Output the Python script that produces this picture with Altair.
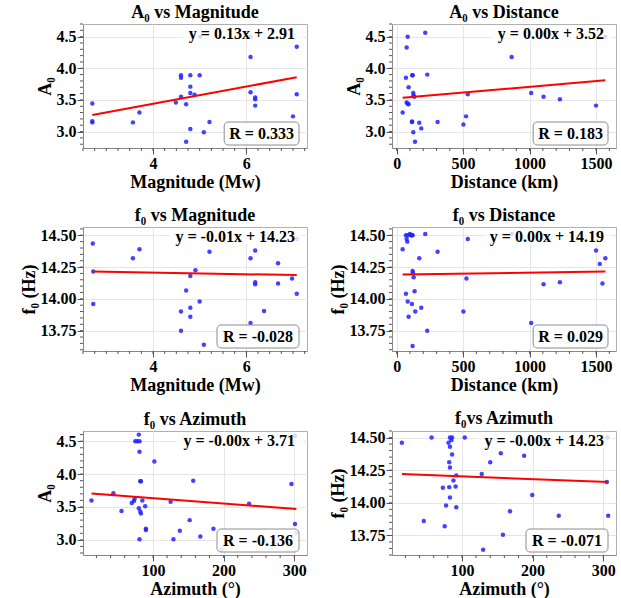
import altair as alt
import numpy as np
import pandas as pd

FONT = "Liberation Serif"
W, H = 224, 124

# ---------------- data ----------------
mag_a0 = [2.7, 2.7, 2.7, 3.57, 3.71, 4.49, 4.60, 4.60, 4.60, 4.71, 4.71, 4.80, 4.80, 4.80,
          4.89, 4.80, 5.00, 5.09, 5.21, 5.01, 6.09, 6.09, 6.19, 6.19, 6.19, 6.09, 7.0, 7.08, 7.08]
a0_mag = [3.445, 3.165, 3.145, 3.145, 3.30, 3.46, 3.89, 3.85, 3.55, 3.43, 2.84, 3.89, 3.71, 3.61,
          3.58, 3.04, 3.89, 2.99, 3.15, 4.50, 4.18, 3.62, 3.54, 3.51, 3.41, 4.50, 3.24, 4.34, 3.59]

dist_a0 = [215, 83, 75, 120, 118, 230, 70, 90, 125, 127, 133, 75, 83, 90, 45, 115, 117, 170,
           185, 125, 138, 308, 502, 522, 535, 865, 1012, 1105, 1228, 1500, 1570]
a0_dist = [4.56, 4.50, 4.33, 3.89, 3.89, 3.90, 3.85, 3.70, 3.61, 3.57, 3.55, 3.46, 3.44, 3.43,
           3.30, 3.15, 3.16, 3.14, 3.05, 2.99, 2.84, 3.15, 3.11, 3.24, 3.59, 4.18, 3.61, 3.55,
           3.51, 3.41, 4.50]

mag_f0 = [2.71, 2.72, 2.72, 3.57, 3.71, 4.60, 4.60, 4.71, 4.80, 4.80, 4.80, 4.91, 5.00, 5.09,
          5.21, 4.90, 6.09, 6.09, 6.19, 6.19, 6.19, 6.38, 6.68, 6.68, 6.98, 7.08, 7.08]
f0_mag = [14.435, 14.215, 13.96, 14.32, 14.39, 13.90, 13.75, 14.065, 14.18, 13.93, 13.86, 14.225,
          13.98, 13.64, 14.37, 14.50, 14.32, 13.81, 14.38, 14.13, 14.115, 13.905, 14.28, 14.12,
          14.16, 14.04, 14.47]

dist_f0 = [45, 70, 85, 100, 108, 115, 120, 75, 80, 215, 308, 170, 535, 120, 122, 128, 525, 135,
           70, 83, 115, 185, 140, 90, 502, 230, 120, 865, 1012, 1105, 1228, 1500, 1528, 1548, 1570]
f0_dist = [14.39, 14.50, 14.50, 14.51, 14.50, 14.50, 14.50, 14.47, 14.45, 14.51, 14.37, 14.32,
           14.47, 14.22, 14.205, 14.17, 14.16, 14.06, 14.04, 13.98, 13.96, 13.93, 13.90, 13.86,
           13.90, 13.75, 13.63, 14.51, 13.81, 14.115, 14.13, 14.38, 14.275, 14.12, 14.32]

az_a0 = [13, 44, 55.5, 70, 73, 74, 80, 75, 78, 81, 81, 82, 83, 85, 89, 80, 82, 83, 90, 90, 81,
         102, 125, 129, 138, 152, 157, 167, 185.6, 197, 236, 296, 301, 301, 303]
a0_az = [3.60, 3.71, 3.44, 3.56, 3.59, 3.62, 4.60, 4.50, 4.50, 4.50, 4.34, 3.89, 3.89, 3.60,
         3.51, 3.48, 3.43, 3.40, 3.17, 3.15, 3.01, 4.19, 3.58, 3.01, 3.14, 3.30, 3.90, 3.05,
         3.17, 2.85, 3.55, 3.85, 3.24, 4.58, 3.11]

az_f0 = [15, 57, 83, 86, 85, 104, 81, 83, 86, 155, 140, 82, 83, 92, 128, 88, 73, 82, 91, 83,
         77.5, 92, 46, 75.6, 130, 158, 188, 199.5, 168, 237, 305, 307, 306]
f0_az = [14.46, 14.50, 14.50, 14.50, 14.48, 14.50, 14.46, 14.43, 14.37, 14.38, 14.31, 14.31,
         14.27, 14.21, 14.22, 14.17, 14.115, 14.12, 14.125, 14.04, 13.98, 13.965, 13.86, 13.82,
         13.64, 13.755, 14.36, 14.06, 13.935, 13.90, 14.16, 13.90, 14.50]

slopes = [0.1364, 0.00018, -0.0064, 0.0000155, -0.00081, -0.00021]
intercepts = [2.893, 3.527, 14.232, 14.191, 3.714, 14.223]
equations = ["y = 0.13x + 2.91", "y = 0.00x + 3.52", "y = -0.01x + 14.23",
             "y = 0.00x + 14.19", "y = -0.00x + 3.71", "y = -0.00x + 14.23"]
r_labels = ["R = 0.333", "R = 0.183", "R = -0.028", "R = 0.029", "R = -0.136", "R = -0.071"]
titles = ["A\u2080 vs Magnitude", "A\u2080 vs Distance", "f\u2080 vs Magnitude",
          "f\u2080 vs Distance", "f\u2080 vs Azimuth", "f\u2080vs Azimuth"]
x_titles = ["Magnitude (Mw)", "Distance (km)", "Magnitude (Mw)", "Distance (km)",
            "Azimuth (\u00b0)", "Azimuth (\u00b0)"]
y_titles = ["A\u2080", "A\u2080", "f\u2080 (Hz)", "f\u2080 (Hz)", "A\u2080", "f\u2080 (Hz)"]


def tick_values(lo, hi, step):
    start = np.ceil(lo / step - 1e-9) * step
    vals = np.arange(start, hi + 1e-9, step)
    return [float(round(v, 4)) for v in vals]


def make_axis(title, dom, major, fmt):
    return alt.Axis(
        title=title,
        values=tick_values(dom[0], dom[1], major),
        format=fmt,
        tickSize=6,
        labelOverlap=False,
        labelFlush=False,
    )


def panel(i, xs, ys, xdom, ydom, xtick, ytick):
    df = pd.DataFrame({"x": xs, "y": ys})
    xsc = alt.Scale(domain=xdom, nice=False, zero=False)
    ysc = alt.Scale(domain=ydom, nice=False, zero=False)
    xax = make_axis(x_titles[i], xdom, xtick[1], xtick[2])
    yax = make_axis(y_titles[i], ydom, ytick[1], ytick[2])
    pts = alt.Chart(df).mark_circle(size=20, color="#2222ff", opacity=0.85).encode(
        x=alt.X("x:Q", scale=xsc, axis=xax),
        y=alt.Y("y:Q", scale=ysc, axis=yax),
    )
    x0, x1 = min(xs), max(xs)
    ldf = pd.DataFrame({"x": [x0, x1],
                        "y": [intercepts[i] + slopes[i] * x0, intercepts[i] + slopes[i] * x1]})
    line = alt.Chart(ldf).mark_line(color="#ff0000", strokeWidth=2).encode(
        x=alt.X("x:Q", scale=xsc, axis=xax),
        y=alt.Y("y:Q", scale=ysc, axis=yax),
    )
    # minor ticks
    mx = pd.DataFrame({"t": tick_values(xdom[0], xdom[1], xtick[0])})
    my = pd.DataFrame({"t": tick_values(ydom[0], ydom[1], ytick[0])})
    mxr = alt.Chart(mx).mark_rule(color="#555555", strokeWidth=1).encode(
        x=alt.X("t:Q", scale=xsc, axis=xax), y=alt.value(H), y2=alt.value(H + 3))
    myr = alt.Chart(my).mark_rule(color="#555555", strokeWidth=1).encode(
        y=alt.Y("t:Q", scale=ysc, axis=yax), x=alt.value(0), x2=alt.value(-3))
    one = pd.DataFrame({"k": [0]})
    ew = len(equations[i]) * 6.9
    ebg = alt.Chart(one).mark_rect(color="white", opacity=0.8).encode(
        x=alt.value(W - 14 - ew), x2=alt.value(W - 4), y=alt.value(1), y2=alt.value(17))
    etx = alt.Chart(one).mark_text(
        text=equations[i], align="right", baseline="middle", font=FONT,
        fontWeight="bold", fontSize=16, color="black").encode(
        x=alt.value(W - 12), y=alt.value(9.5))
    rw = len(r_labels[i]) * 7.2 + 10
    rbox = alt.Chart(one).mark_rect(
        fill="white", fillOpacity=0.85, stroke="#8c8c8c", strokeWidth=1,
        cornerRadius=4).encode(
        x=alt.value(W - 8 - rw), x2=alt.value(W - 8), y=alt.value(H - 26), y2=alt.value(H - 3))
    rtx = alt.Chart(one).mark_text(
        text=r_labels[i], align="center", baseline="middle", font=FONT,
        fontWeight="bold", fontSize=16, color="black").encode(
        x=alt.value(W - 8 - rw / 2), y=alt.value(H - 14))
    return alt.layer(mxr, myr, pts, line, ebg, etx, rbox, rtx).properties(
        width=W, height=H, title=alt.Title(titles[i], frame="group"))


mag_dom = [2.5, 7.3]
dist_dom = [-35, 1650]
az_dom = [1, 318]
p1 = panel(0, mag_a0, a0_mag, mag_dom, [2.74, 4.70], (0.25, 2, "d"), (0.1, 0.5, ".1f"))
p2 = panel(1, dist_a0, a0_dist, dist_dom, [2.74, 4.70], (100, 500, "d"), (0.1, 0.5, ".1f"))
p3 = panel(2, mag_f0, f0_mag, mag_dom, [13.59, 14.565], (0.25, 2, "d"), (0.05, 0.25, ".2f"))
p4 = panel(3, dist_f0, f0_dist, dist_dom, [13.59, 14.565], (100, 500, "d"), (0.05, 0.25, ".2f"))
p5 = panel(4, az_a0, a0_az, az_dom, [2.77, 4.655], (20, 100, "d"), (0.1, 0.5, ".1f"))
p6 = panel(5, az_f0, f0_az, az_dom, [13.60, 14.55], (20, 100, "d"), (0.05, 0.25, ".2f"))

chart = alt.concat(p1, p2, p3, p4, p5, p6, columns=2, spacing={"row": 14, "column": 20}).properties(
    padding={"left": 19, "top": 3, "right": 3, "bottom": 0}
).configure_view(
    stroke="#b0b0b0", strokeWidth=1
).configure_axis(
    labelFont=FONT, labelFontSize=16, labelFontWeight="bold", labelColor="black",
    titleFont=FONT, titleFontSize=18, titleFontWeight="bold", titleColor="black",
    domainColor="#888888", tickColor="#555555", gridColor="#e6e6e6",
    labelPadding=1, titlePadding=2,
).configure_title(
    font=FONT, fontSize=18, fontWeight="bold", color="black", offset=2, anchor="middle"
)

chart.save("out.html", embed_options={"renderer": "svg", "actions": False})
